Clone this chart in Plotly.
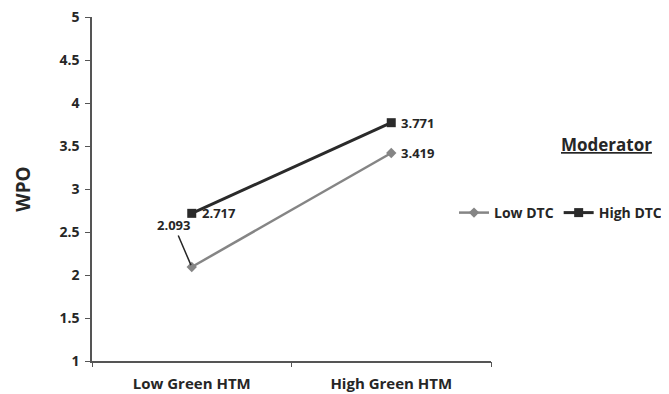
import plotly.graph_objects as go

categories = ["Low Green HTM", "High Green HTM"]
low_dtc = [2.093, 3.419]
high_dtc = [2.717, 3.771]
series_names = ["Low DTC", "High DTC"]
y_ticks = [1, 1.5, 2, 2.5, 3, 3.5, 4, 4.5, 5]
y_tick_labels = ["1", "1.5", "2", "2.5", "3", "3.5", "4", "4.5", "5"]

FONT = "Open Sans"
TXT = "#262626"
xpos = [i + 0.5 for i in range(len(categories))]

# page body has ~7px default offset; compensate so plot area lands at x 91-490, y 16-360
OFF = 7
L, R, T, B = 91 - OFF, 179, 16 - OFF, 34
W, H = 669 - OFF, 394 - OFF
PW = W - L - R
PH = H - T - B

fig = go.Figure()
fig.add_trace(go.Scatter(
    x=xpos, y=low_dtc, name=series_names[0], mode="lines+markers",
    line=dict(color="#858585", width=2.5),
    marker=dict(symbol="diamond", size=8, color="#858585"),
))
fig.add_trace(go.Scatter(
    x=xpos, y=high_dtc, name=series_names[1], mode="lines+markers",
    line=dict(color="#2a2a2a", width=3),
    marker=dict(symbol="square", size=9, color="#2a2a2a"),
))
fig.add_trace(go.Scatter(x=[0, len(categories)], y=[None, None], xaxis="x2",
                         showlegend=False, hoverinfo="skip"))

lab_font = dict(family=FONT, size=13, color=TXT, weight="bold")
for xv, yv in zip(xpos, high_dtc):
    fig.add_annotation(x=xv, y=yv, text=f"{yv:.3f}", showarrow=False,
                       xanchor="left", xshift=8, font=lab_font)
fig.add_annotation(x=xpos[1], y=low_dtc[1], text=f"{low_dtc[1]:.3f}", showarrow=False,
                   xanchor="left", xshift=8, font=lab_font)
fig.add_annotation(x=xpos[0], y=low_dtc[0], text=f"{low_dtc[0]:.3f}", showarrow=True,
                   arrowhead=0, arrowwidth=1.5, arrowcolor=TXT,
                   ax=-18, ay=-42, font=lab_font, standoff=2)

fig.add_annotation(x=(605 - 91) / PW, y=(360 - 143) / PH, xref="paper", yref="paper",
                   xanchor="center", yanchor="middle",
                   text="<u>Moderator</u>", showarrow=False,
                   font=dict(family=FONT, size=17, color=TXT, weight="bold"))

fig.update_layout(
    width=W, height=H,
    margin=dict(l=L, r=R, t=T, b=B, autoexpand=False),
    paper_bgcolor="white", plot_bgcolor="white",
    showlegend=True,
    legend=dict(orientation="h", x=(453 - 91) / PW, xanchor="left",
                y=(360 - 212) / PH, yanchor="middle",
                font=dict(family=FONT, size=14, color=TXT, weight="bold"),
                itemwidth=30, tracegroupgap=0, bgcolor="rgba(0,0,0,0)"),
    xaxis=dict(range=[0, len(categories)], tickvals=xpos, ticktext=categories,
               ticks="", showgrid=False, zeroline=False, showline=True, automargin=False,
               linecolor="#555555", linewidth=1.5,
               tickfont=dict(family=FONT, size=15, color=TXT, weight="bold"),
               ticklabelstandoff=8),
    xaxis2=dict(range=[0, len(categories)], overlaying="x", side="bottom", automargin=False,
                tickvals=list(range(len(categories) + 1)), ticktext=[""] * (len(categories) + 1),
                ticks="outside", ticklen=5, tickcolor="#555555", showgrid=False,
                zeroline=False, showline=False),
    yaxis=dict(range=[1, 5], tickvals=y_ticks, ticktext=y_tick_labels, ticks="outside",
               ticklen=5, tickcolor="#555555", showgrid=False, zeroline=False, automargin=False,
               showline=True, linecolor="#555555", linewidth=1.5, ticklabelstandoff=3,
               ticklabeloverflow="allow",
               tickfont=dict(family=FONT, size=14, color=TXT, weight="bold"),
               title=dict(text="WPO", font=dict(family=FONT, size=19, color=TXT, weight="bold"),
                          standoff=24)),
)

fig.write_html("out.html")
